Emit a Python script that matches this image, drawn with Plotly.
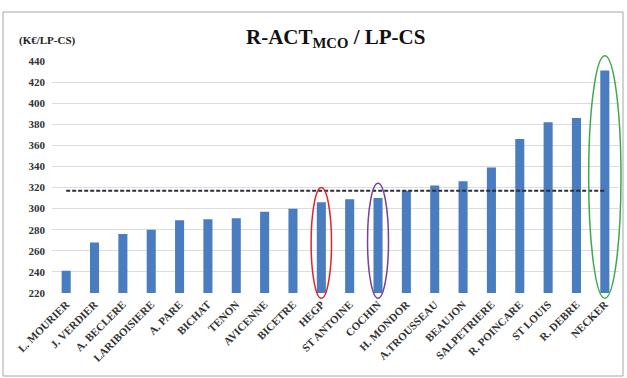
import plotly.graph_objects as go

hospitals = ["L. MOURIER", "J. VERDIER", "A. BECLERE", "LARIBOISIERE", "A. PARE", "BICHAT",
             "TENON", "AVICENNE", "BICETRE", "HEGP", "ST ANTOINE", "COCHIN", "H. MONDOR",
             "A.TROUSSEAU", "BEAUJON", "SALPETRIERE", "R. POINCARE", "ST LOUIS", "R. DEBRE", "NECKER"]
values = [241, 268, 276, 280, 289, 290, 291, 297, 300, 306, 309, 310, 317,
          322, 326, 339, 366, 382, 386, 431]
average = 317
highlight_names = ["HEGP", "COCHIN", "NECKER"]
highlight_colors = ["#e0242b", "#7b3f9a", "#3daa4a"]
highlight_halfwidth = [0.36, 0.37, 0.57]

W, H = 627, 378
L, R, T, B = 52, 8, 61, 85
pw, ph = W - L - R, H - T - B
Y0, Y1 = 220, 440
n = len(hospitals)

def px_x(p):
    return (p - L) / pw

def px_y(p):
    return (H - B - p) / ph

def cat_x(c):
    return (c + 0.5) / n

def val_y(v):
    return (v - Y0) / (Y1 - Y0)

serif = "Liberation Serif"

fig = go.Figure()
fig.add_trace(go.Bar(x=hospitals, y=values, marker=dict(color="#4a7dc0", line=dict(width=0)),
                     showlegend=False, hoverinfo="skip"))
fig.add_trace(go.Scatter(x=hospitals, y=[average] * n, mode="lines",
                         line=dict(color="#2b2f3a", width=2, dash="4px,2px"), showlegend=False,
                         hoverinfo="skip"))

shapes = []
for name, col, hw in zip(highlight_names, highlight_colors, highlight_halfwidth):
    i = hospitals.index(name)
    v = values[i]
    shapes.append(dict(type="circle", xref="paper", yref="paper", x0=cat_x(i - hw), x1=cat_x(i + hw),
                       y0=val_y(215), y1=val_y(v + 14), line=dict(color=col, width=1.5), layer="above"))
# outer frame
shapes.append(dict(type="rect", xref="paper", yref="paper", x0=px_x(3), x1=px_x(623),
                   y0=px_y(376), y1=px_y(12), line=dict(color="#a6a6a6", width=1), layer="below"))

fig.update_layout(
    width=W, height=H, margin=dict(l=L, r=R, t=T, b=B, autoexpand=False),
    paper_bgcolor="white", plot_bgcolor="white",
    bargap=0.68, shapes=shapes,
    font=dict(family=serif, color="#222", weight="bold"),
    annotations=[
        dict(text="R-ACT<sub>MCO</sub> / LP-CS", xref="paper", yref="paper", x=0.5, y=px_y(38),
             showarrow=False, font=dict(family=serif, size=21, color="#111", weight="bold"),
             xanchor="center", yanchor="middle"),
        dict(text="(K€/LP-CS)", xref="paper", yref="paper", x=px_x(17), y=px_y(41),
             showarrow=False, font=dict(family=serif, size=11, color="#222", weight="bold"),
             xanchor="left", yanchor="middle"),
    ],
)
fig.update_yaxes(range=[Y0, Y1], dtick=20, showgrid=True, gridcolor="#dcdcdc", gridwidth=1,
                 zeroline=False, showline=False, ticks="", automargin=False, ticklabelstandoff=6,
                 tickfont=dict(family=serif, size=11, color="#333", weight="bold"))
fig.update_xaxes(tickangle=-45, showgrid=False, showline=False, ticks="", automargin=False,
                 ticklabelstandoff=2,
                 tickfont=dict(family=serif, size=11, color="#333", weight="bold"),
                 range=[-0.5, n - 0.5])

fig.write_html("out.html", config={"displayModeBar": False},
               post_script="document.body.style.margin='0';document.body.style.overflow='hidden';")
